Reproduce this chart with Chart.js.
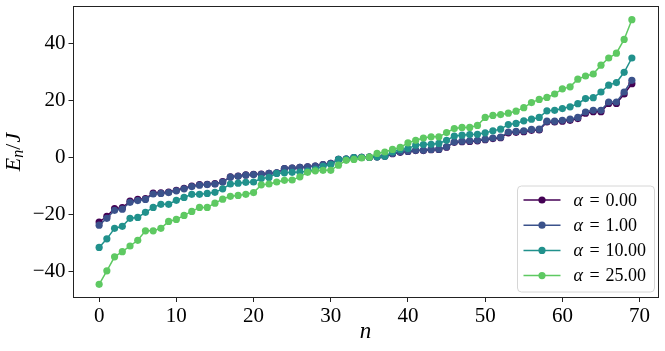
<!DOCTYPE html>
<html><head><meta charset="utf-8">
<script src="https://cdn.jsdelivr.net/npm/chart.js@4.4.1/dist/chart.umd.min.js"></script>
<style>html,body{margin:0;padding:0;background:#fff;overflow:hidden}canvas{display:block}</style>
</head><body>
<canvas id="c" width="665" height="351"></canvas>
<script>
// ---------- data ----------
const nValues = [0,1,2,3,4,5,6,7,8,9,10,11,12,13,14,15,16,17,18,19,20,21,22,23,24,25,26,27,28,29,30,31,32,33,34,35,36,37,38,39,40,41,42,43,44,45,46,47,48,49,50,51,52,53,54,55,56,57,58,59,60,61,62,63,64,65,66,67,68,69];
const alphaLabels = ['0.00','1.00','10.00','25.00'];
const energyAlpha0 = [-22.6,-20.6,-17.9,-17.6,-15.3,-14.7,-14.4,-12.5,-12.4,-12.1,-11.5,-10.8,-10.0,-9.5,-9.4,-9.2,-8.5,-6.8,-6.5,-6.1,-5.9,-5.8,-5.6,-5.4,-3.9,-3.7,-3.5,-3.3,-3.0,-2.5,-2.1,-0.7,-0.6,-0.1,0.0,0.1,0.2,0.4,1.3,1.8,2.1,2.4,2.4,2.7,2.8,3.6,5.3,5.5,5.6,5.8,6.2,6.6,6.9,8.6,8.8,9.0,9.5,9.6,12.4,12.4,12.7,13.0,13.6,15.5,16.0,16.0,18.9,18.9,22.2,25.8];
const energyAlpha1 = [-23.7,-21.3,-18.5,-18.1,-15.7,-15.1,-14.7,-12.8,-12.6,-12.3,-11.7,-11.0,-10.2,-9.7,-9.5,-9.3,-8.6,-6.9,-6.6,-6.2,-6.0,-5.9,-5.6,-5.4,-3.9,-3.7,-3.5,-3.3,-3.0,-2.5,-2.1,-0.7,-0.6,-0.1,0.0,0.1,0.2,0.4,1.4,1.9,2.2,2.5,2.5,2.8,2.9,3.7,5.4,5.7,5.8,6.0,6.4,6.8,7.1,8.9,9.1,9.3,9.8,9.9,12.7,12.7,13.0,13.4,14.0,15.9,16.5,16.5,19.4,19.4,22.9,27.0];
const energyAlpha10 = [-31.5,-28.5,-24.8,-24.1,-21.3,-21.0,-19.2,-17.5,-16.4,-16.4,-15.0,-14.0,-12.9,-12.9,-12.6,-12.2,-11.0,-9.3,-9.0,-8.7,-8.6,-7.4,-7.0,-5.6,-5.4,-5.2,-5.1,-4.8,-4.2,-3.1,-2.5,-0.7,-0.6,-0.1,0.0,0.1,0.2,0.4,1.9,2.8,3.1,4.3,4.5,4.6,4.9,6.0,7.5,7.8,8.0,8.1,8.6,9.3,9.9,11.5,11.9,12.8,13.4,14.0,16.3,16.5,17.1,17.7,18.8,20.6,20.9,22.9,25.3,26.2,29.8,34.8];
const energyAlpha25 = [-44.4,-39.7,-34.8,-33.0,-31.0,-29.0,-25.7,-25.7,-24.8,-22.4,-21.7,-20.3,-18.9,-17.5,-17.5,-16.0,-14.6,-13.6,-13.3,-12.9,-12.3,-9.6,-9.3,-8.6,-8.0,-7.9,-6.8,-5.2,-4.7,-4.5,-4.5,-2.7,-1.0,-0.7,-0.2,0.1,1.4,1.9,2.8,3.5,5.1,6.0,6.8,7.2,7.2,8.7,10.1,10.5,10.5,11.2,14.0,14.7,15.0,15.5,16.2,17.4,19.2,20.3,21.0,22.2,24.0,24.7,27.4,28.5,29.2,32.3,34.8,36.5,41.3,48.2];
const xTickValues = [0,10,20,30,40,50,60,70];
const yTickValues = [-40,-20,0,20,40];

// ---------- style ----------
const colors = ['#440154','#3b528b','#21918c','#5ec962'];
const FONT = "'Liberation Serif','Times New Roman',serif";
const series = [energyAlpha0, energyAlpha1, energyAlpha10, energyAlpha25];

const datasets = series.map((vals, i) => ({
  label: '\u03B1 = ' + alphaLabels[i],
  data: nValues.map((n, k) => ({x: n, y: vals[k]})),
  borderColor: colors[i],
  backgroundColor: colors[i],
  pointBackgroundColor: colors[i],
  pointBorderWidth: 0,
  pointRadius: 3.6,
  borderWidth: 1.5,
  tension: 0,
  fill: false,
  order: 4 - i
}));

const decor = {
  id: 'decor',
  afterDraw(chart) {
    const {ctx, chartArea: a} = chart;
    ctx.save();
    // frame
    ctx.strokeStyle = '#222'; ctx.lineWidth = 1;
    ctx.strokeRect(Math.round(a.left) + 0.5, Math.round(a.top) + 0.5,
                   Math.round(a.right - a.left) - 1, Math.round(a.bottom - a.top) - 1);
    // x title
    ctx.fillStyle = '#000';
    ctx.font = 'italic 23px ' + FONT;
    ctx.textAlign = 'center'; ctx.textBaseline = 'alphabetic';
    ctx.fillText('n', (a.left + a.right) / 2, a.bottom + 40);
    ctx.restore();

    // y title  E_n / J
    ctx.save();
    ctx.fillStyle = '#000';
    ctx.translate(20, (a.top + a.bottom) / 2);
    ctx.rotate(-Math.PI / 2);
    ctx.textBaseline = 'alphabetic'; ctx.textAlign = 'left';
    const parts = [
      {t: 'E', f: 'italic 22px ' + FONT, dy: 0},
      {t: 'n', f: 'italic 16px ' + FONT, dy: 3},
      {t: '/', f: '22px ' + FONT, dy: 0, pad: 1},
      {t: 'J', f: 'italic 22px ' + FONT, dy: 0}
    ];
    let total = 0;
    parts.forEach(p => { ctx.font = p.f; p.w = ctx.measureText(p.t).width + (p.pad || 0); total += p.w; });
    let x = -total / 2;
    parts.forEach(p => { ctx.font = p.f; ctx.fillText(p.t, x, p.dy); x += p.w; });
    ctx.restore();

    // legend
    ctx.save();
    const lw = 137, lh = 106;
    const lx = a.right - 4 - lw, ly = a.bottom - 6 - lh;
    const r = 4;
    ctx.beginPath();
    ctx.moveTo(lx + r, ly);
    ctx.lineTo(lx + lw - r, ly); ctx.quadraticCurveTo(lx + lw, ly, lx + lw, ly + r);
    ctx.lineTo(lx + lw, ly + lh - r); ctx.quadraticCurveTo(lx + lw, ly + lh, lx + lw - r, ly + lh);
    ctx.lineTo(lx + r, ly + lh); ctx.quadraticCurveTo(lx, ly + lh, lx, ly + lh - r);
    ctx.lineTo(lx, ly + r); ctx.quadraticCurveTo(lx, ly, lx + r, ly);
    ctx.closePath();
    ctx.fillStyle = 'rgba(255,255,255,0.8)'; ctx.fill();
    ctx.strokeStyle = '#d6d6d6'; ctx.lineWidth = 1; ctx.stroke();
    chart.data.datasets.forEach((ds, i) => {
      const ry = ly + 14 + i * 25.2;
      ctx.strokeStyle = ds.borderColor; ctx.lineWidth = 1.5;
      ctx.beginPath(); ctx.moveTo(lx + 6, ry); ctx.lineTo(lx + 43, ry); ctx.stroke();
      ctx.fillStyle = ds.borderColor;
      ctx.beginPath(); ctx.arc(lx + 24.5, ry, 3.6, 0, Math.PI * 2); ctx.fill();
      const [sym, rest] = ds.label.split(' = ');
      ctx.fillStyle = '#000'; ctx.textBaseline = 'alphabetic'; ctx.textAlign = 'left';
      ctx.font = 'italic 18px ' + FONT;
      ctx.fillText(sym, lx + 56, ry + 5.5);
      ctx.textAlign = 'center';
      ctx.font = '18px ' + FONT;
      ctx.fillText('=', lx + 77, ry + 5.5);
      ctx.textAlign = 'left';
      ctx.fillText(rest, lx + 88, ry + 5.5);
    });
    ctx.restore();
  }
};

const tickFont = {family: FONT, size: 21};
new Chart(document.getElementById('c'), {
  type: 'line',
  data: {datasets},
  plugins: [decor],
  options: {
    responsive: false,
    devicePixelRatio: 1,
    animation: false,
    layout: {padding: {top: 6, right: 6.5, left: 0, bottom: 0}},
    plugins: {legend: {display: false}, tooltip: {enabled: false}},
    scales: {
      x: {
        type: 'linear', min: -3.45, max: 72.45,
        afterBuildTicks: s => { s.ticks = xTickValues.map(v => ({value: v})); },
        afterFit: s => { s.height = 53; s.paddingLeft = 0; s.paddingRight = 0; },
        grid: {drawOnChartArea: false, drawTicks: true, tickLength: 4, color: '#222', lineWidth: 1},
        border: {display: false},
        ticks: {font: tickFont, color: '#000', padding: 2, maxRotation: 0, autoSkip: false}
      },
      y: {
        type: 'linear', min: -49.2, max: 53.0,
        afterBuildTicks: s => { s.ticks = yTickValues.map(v => ({value: v})); },
        afterFit: s => { s.width = 72.5; s.paddingTop = 0; s.paddingBottom = 0; },
        grid: {drawOnChartArea: false, drawTicks: true, tickLength: 4, color: '#222', lineWidth: 1},
        border: {display: false},
        ticks: {font: tickFont, color: '#000', padding: 3, autoSkip: false,
                callback: v => String(v).replace('-', '\u2212')}
      }
    }
  }
});
</script>
</body></html>
